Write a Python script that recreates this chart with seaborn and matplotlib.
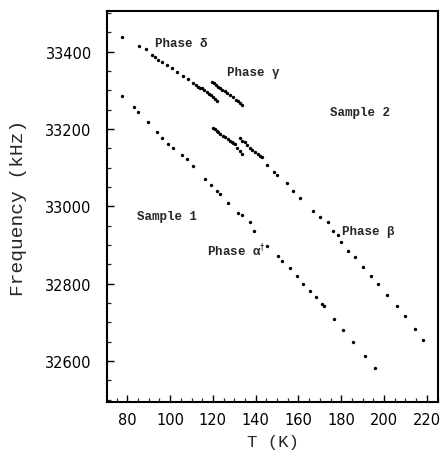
import matplotlib
matplotlib.use("Agg")
import matplotlib.pyplot as plt
from matplotlib.ticker import MultipleLocator
import seaborn as sns
import pandas as pd

# Sample 2, phase delta
delta_T = [77.6, 85.6, 88.6, 91.4, 92.9, 94.5, 96.4, 98.4, 100.7, 103.1, 105.8, 108.5,
           110.8, 112.0, 113.2, 114.1, 115.0, 116.0, 117.1, 118.1, 119.1, 119.9, 120.8, 121.7]
delta_f = [33439, 33414, 33406, 33391, 33386, 33379, 33372, 33365, 33357, 33346, 33337, 33329,
           33320, 33314, 33309, 33307, 33305, 33300, 33296, 33291, 33287, 33283, 33278, 33272]
# Sample 2, phase gamma
gamma_T = [119.4, 120.4, 121.4, 122.4, 123.4, 124.4, 125.6, 126.8, 128.2, 129.4, 130.6, 131.6, 132.6, 133.7]
gamma_f = [33322, 33318, 33314, 33309, 33305, 33302, 33297, 33292, 33287, 33282, 33276, 33272, 33267, 33262]
# Sample 2, phase beta
beta_T = [119.9, 120.8, 121.8, 122.6, 123.3, 124.5, 125.7, 127.2, 128.0, 128.8, 129.6, 130.3, 131.1,
          132.7, 133.8, 135.0, 136.1, 137.3, 138.5, 139.7, 140.9, 142.0, 142.8, 132.7, 133.5,
          145.1, 148.6, 150.1, 154.5, 157.6, 160.7, 166.9, 170.0, 173.9, 176.3, 178.6, 179.7,
          183.3, 186.4, 190.3, 193.7, 197.3, 201.2, 205.9, 209.8, 214.5, 218.3]
beta_f = [33203, 33199, 33195, 33191, 33187, 33182, 33178, 33174, 33170, 33167, 33164, 33161, 33152,
          33176, 33170, 33165, 33158, 33152, 33146, 33140, 33135, 33131, 33127, 33144, 33135,
          33107, 33089, 33081, 33059, 33040, 33021, 32989, 32972, 32960, 32937, 32926, 32907,
          32885, 32868, 32842, 32819, 32799, 32771, 32742, 32717, 32683, 32655]
# Sample 1, phase alpha
alpha_T = [77.7, 83.3, 84.9, 89.5, 93.7, 96.1, 99.2, 101.5, 105.7, 107.8, 110.6, 116.3, 119.1,
           121.8, 123.3, 127.2, 131.9, 133.5, 137.3, 139.2, 145.1, 150.6, 152.1, 156.0, 159.2,
           162.0, 165.4, 168.2, 170.8, 171.9, 176.6, 180.9, 185.6, 191.0, 195.7]
alpha_f = [33286, 33257, 33244, 33219, 33193, 33176, 33161, 33150, 33133, 33122, 33103, 33071, 33055,
           33040, 33032, 33009, 32983, 32978, 32959, 32937, 32898, 32871, 32859, 32840, 32819,
           32799, 32782, 32765, 32748, 32742, 32709, 32679, 32649, 32612, 32581]

annot_text = ["Phase δ", "Phase γ", "Sample 2", "Sample 1", r"Phase α$^{\dagger}$", "Phase β"]
annot_T = [92.9, 126.6, 174.7, 84.4, 117.4, 180.2]
annot_f = [33421, 33348, 33244, 32974, 32888, 32937]

x_ticks = [80, 100, 120, 140, 160, 180, 200, 220]
y_ticks = [32600, 32800, 33000, 33200, 33400]

sns.set_style("ticks")
plt.rcParams['font.family'] = ['DejaVu Sans']

frames = []
for name, T, f in [("delta", delta_T, delta_f), ("gamma", gamma_T, gamma_f),
                   ("beta", beta_T, beta_f), ("alpha", alpha_T, alpha_f)]:
    frames.append(pd.DataFrame({"T": T, "f": f, "phase": name}))
df = pd.concat(frames, ignore_index=True)

fig = plt.figure(figsize=(4.45, 4.6), dpi=100)
ax = fig.add_axes([107/445, 1-403/460, (438-107)/445, (403-12)/460])

sns.scatterplot(data=df, x="T", y="f", color="black", s=6, marker="o",
                linewidth=0, ax=ax, legend=False)

ax.set_xlim(70.5, 225.2)
ax.set_ylim(32494, 33505)
ax.set_xticks(x_ticks)
ax.set_yticks(y_ticks)
ax.xaxis.set_minor_locator(MultipleLocator(5))
ax.yaxis.set_minor_locator(MultipleLocator(50))
ax.tick_params(which="major", direction="in", length=5, width=1.0, labelsize=10.5, pad=7,
               colors="black")
ax.tick_params(axis="y", which="major", pad=11)
ax.tick_params(which="minor", direction="in", length=3, width=0.9)
for sp in ax.spines.values():
    sp.set_visible(True)
    sp.set_linewidth(1.5)
    sp.set_color("black")

ax.set_xlabel("T (K)", family="Liberation Mono", fontsize=12.5, labelpad=5)
ax.set_ylabel("Frequency (kHz)", family="Liberation Mono", fontsize=14, labelpad=13)

for txt, T, f in zip(annot_text, annot_T, annot_f):
    ax.text(T, f, txt, family=["Liberation Mono", "DejaVu Sans"], fontsize=9,
            fontweight="bold", ha="left", va="center")

fig.savefig("out.png", dpi=100)
